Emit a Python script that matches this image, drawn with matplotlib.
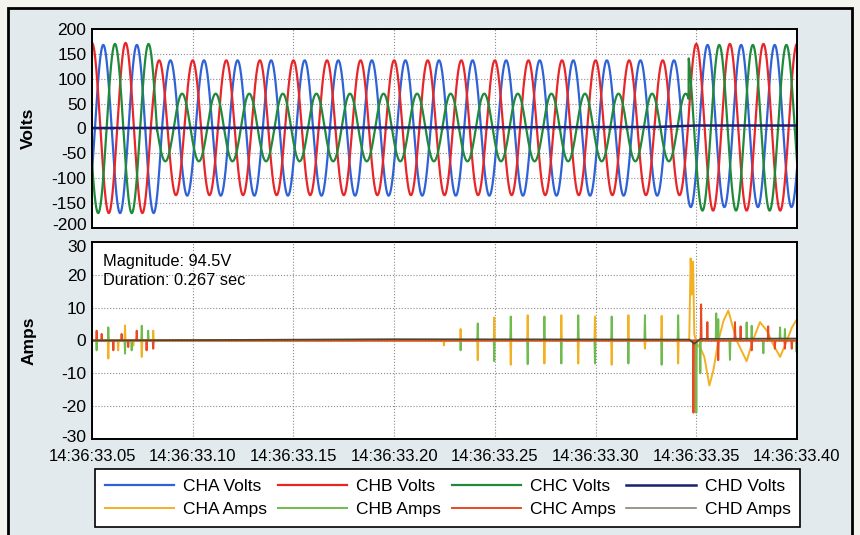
import numpy as np
import matplotlib
matplotlib.use("Agg")
import matplotlib.pyplot as plt
from matplotlib import font_manager
from matplotlib.patches import Rectangle
from matplotlib.transforms import ScaledTranslation
from matplotlib.ticker import FuncFormatter

# ---- data (time in seconds after 14:36:33) ----
FREQ = 60.0
T_START, T_END = 0.05, 0.40
x_ticks = [0.05, 0.10, 0.15, 0.20, 0.25, 0.30, 0.35, 0.40]
volt_ticks = [-200, -150, -100, -50, 0, 50, 100, 150, 200]
amp_ticks = [-30, -20, -10, 0, 10, 20, 30]

# voltage channels: one positive peak time, sag start/end edges, peak values per segment
cha_v_peak = 0.0556
cha_v_edges = [0.0847, 0.3431]
cha_v_pos = [168, 137, 168]
cha_v_neg = [-170, -135, -158]

chb_v_peak = 0.0500
chb_v_edges = [0.0792, 0.3458]
chb_v_pos = [172, 137, 170]
chb_v_neg = [-170, -134, -165]

chc_v_peak = 0.0614
chc_v_edges = [0.0823, 0.3462]
chc_v_pos = [170, 70, 168]
chc_v_neg = [-170, -66, -165]

chd_v_t = [0.05, 0.20, 0.33, 0.35, 0.40]
chd_v_v = [1.0, 2.0, 3.0, 6.0, 6.0]

# current channels: narrow spikes (time, amps) plus a continuous trace after the fault
cha_a_spike_t = [0.0581, 0.0630, 0.0664, 0.0705, 0.0747, 0.0804,
                 0.2247, 0.2330, 0.2415, 0.2497, 0.2579, 0.2663, 0.2746,
                 0.2830, 0.2914, 0.2997, 0.3080, 0.3163, 0.3245, 0.3328, 0.3410]
cha_a_spike_v = [-5.5, -3.0, 4.6, -1.5, -5.0, 3.0,
                 -1.5, 3.5, -6.0, 7.0, -7.4, 7.7, -7.0,
                 7.7, -7.0, 7.3, -7.4, 7.7, -2.5, 7.5, -7.0]
cha_a_trace_t = [0.3465, 0.3472, 0.3478, 0.3484, 0.3490, 0.3502, 0.3522, 0.3540,
                 0.3565, 0.3585, 0.3610, 0.3635, 0.3659, 0.3700, 0.3750, 0.3781,
                 0.3816, 0.3850, 0.3880, 0.3916, 0.3950, 0.3975, 0.3998, 0.4000]
cha_a_trace_v = [0.0, 25.0, 14.0, 24.0, 2.0, -1.0, -2.5, -5.0,
                 -13.7, -9.0, 0.0, 6.0, 9.1, 0.0, -6.3, 0.0,
                 5.6, 3.0, -1.0, -5.0, 0.0, 4.0, 6.3, 6.3]

chb_a_spike_t = [0.0523, 0.0581, 0.0664, 0.0697, 0.0747, 0.0779,
                 0.2330, 0.2415, 0.2497, 0.2579, 0.2663, 0.2746, 0.2830,
                 0.2914, 0.2997, 0.3080, 0.3163, 0.3245, 0.3328, 0.3410,
                 0.3500, 0.3520, 0.3599, 0.3609, 0.3667, 0.3750, 0.3775,
                 0.3833, 0.3916, 0.3940, 0.3998]
chb_a_spike_v = [-3.0, 4.0, -4.0, -3.0, 4.5, 3.0,
                 -3.0, 5.2, -6.3, 7.3, -7.2, 7.3, -7.0,
                 7.7, -7.0, 7.3, -7.0, 7.7, -7.4, 7.7,
                 -22.0, -10.0, 8.3, 6.5, -5.9, 5.5, 4.5,
                 -3.9, 4.0, 3.5, -3.5]

chc_a_spike_t = [0.0523, 0.0548, 0.0606, 0.0647, 0.0680, 0.0722, 0.0771, 0.0804,
                 0.3486, 0.3524, 0.3555, 0.3609, 0.3692, 0.3720, 0.3775,
                 0.3857, 0.3890, 0.3940, 0.3974]
chc_a_spike_v = [3.0, 2.0, -3.0, 2.0, -2.0, 3.0, -3.0, -2.5,
                 -22.0, 11.0, 5.6, -6.0, 5.6, 4.3, -3.0,
                 4.3, -2.5, -2.5, -2.5]

chd_a_t = [0.05, 0.20, 0.3465, 0.3490, 0.3520, 0.40]
chd_a_v = [0.0, 0.4, 0.3, -1.0, 0.5, 0.6]

labels_v = ["CHA Volts", "CHB Volts", "CHC Volts", "CHD Volts"]
labels_a = ["CHA Amps", "CHB Amps", "CHC Amps", "CHD Amps"]
colors_v = ["#2f62d6", "#e8262a", "#1f8a3a", "#1c1f6e"]
colors_a = ["#f2b123", "#6fbb4e", "#ea4a22", "#8a8478"]


def wave(t, t_peak, edges, pos, neg):
    seg = np.searchsorted(edges, t)
    c = np.cos(2 * np.pi * FREQ * (t - t_peak))
    amp = np.where(c >= 0, np.take(pos, seg), -np.take(neg, seg))
    return c * amp


def build_trace(spike_t, spike_v, trace_t=(), trace_v=(), half=0.00025):
    pts = [(T_START, 0.0)]
    for t, v in zip(spike_t, spike_v):
        pts += [(t - half, 0.0), (t, v), (t + half, 0.0)]
    pts += list(zip(trace_t, trace_v))
    if not trace_t:
        pts.append((T_END, 0.0))
    pts.sort()
    arr = np.array(pts)
    return arr[:, 0], arr[:, 1]


def nudge(label, dy_pt):
    label.set_transform(label.get_transform() + ScaledTranslation(0, dy_pt / 72, fig.dpi_scale_trans))


names = {f.name for f in font_manager.fontManager.ttflist}
narrow = "Liberation Sans Narrow" in names
plt.rcParams["font.family"] = ["Liberation Sans", "DejaVu Sans"]
plt.rcParams["axes.unicode_minus"] = False

fig = plt.figure(figsize=(8.6, 5.35), dpi=100, facecolor="#f4f4ef")
fig.patches.append(Rectangle((8 / 860, -0.02), 844 / 860, 1 - 8 / 535 + 0.02,
                             transform=fig.transFigure, facecolor="#e2eaee",
                             edgecolor="black", linewidth=2, zorder=-5))

ax1 = fig.add_axes([92 / 860, 1 - 228 / 535, 705 / 860, 199 / 535])
ax2 = fig.add_axes([92 / 860, 1 - 439 / 535, 705 / 860, 197 / 535], sharex=ax1)

t = np.linspace(T_START, T_END, 4000)
volt_sets = [
    (cha_v_peak, cha_v_edges, cha_v_pos, cha_v_neg),
    (chb_v_peak, chb_v_edges, chb_v_pos, chb_v_neg),
    (chc_v_peak, chc_v_edges, chc_v_pos, chc_v_neg),
]
lines = []
for (pk, ed, po, ne), lab, col in zip(volt_sets, labels_v[:3], colors_v[:3]):
    ln, = ax1.plot(t, wave(t, pk, ed, po, ne), color=col, lw=1.6, label=lab)
    lines.append(ln)
ln, = ax1.plot(chd_v_t, chd_v_v, color=colors_v[3], lw=1.8, label=labels_v[3])
lines.append(ln)

amp_traces = [
    build_trace(cha_a_spike_t, cha_a_spike_v, cha_a_trace_t, cha_a_trace_v),
    build_trace(chb_a_spike_t, chb_a_spike_v),
    build_trace(chc_a_spike_t, chc_a_spike_v),
]
alines = []
for (tt, vv), lab, col in zip(amp_traces, labels_a[:3], colors_a[:3]):
    ln, = ax2.plot(tt, vv, color=col, lw=1.4, label=lab)
    alines.append(ln)
ln, = ax2.plot(chd_a_t, chd_a_v, color="#4d4535", lw=1.2, label=labels_a[3])
alines.append(ln)

for ax in (ax1, ax2):
    ax.set_facecolor("white")
    ax.grid(True, color="#8c8c8c", linestyle=":", linewidth=0.8)
    ax.tick_params(length=0, labelsize=12.5, pad=4)
    for s in ax.spines.values():
        s.set_linewidth(1.4)
        s.set_color("black")
    ax.set_axisbelow(True)

ax1.set_xlim(T_START, T_END)
ax1.set_xticks(x_ticks)
ax1.set_ylim(-200, 200)
ax1.set_yticks(volt_ticks)
ax1.tick_params(axis="x", labelbottom=False)
ax1.set_ylabel("Volts", fontsize=12.5, fontweight="bold")
ax1.yaxis.set_label_coords(-0.079, 0.5)

ax2.set_ylim(-30, 30)
ax2.set_yticks(amp_ticks)
ax2.xaxis.set_major_formatter(FuncFormatter(lambda x, p: "14:36:33.%02d" % int(round(x * 100))))
ax2.set_ylabel("Amps", fontsize=12.5, fontweight="bold")
ax2.yaxis.set_label_coords(-0.079, 0.5)
ax2.tick_params(axis="x", pad=7)
xfam = ["Liberation Sans Narrow"] if narrow else ["Liberation Sans"]
for lab in ax2.get_xticklabels():
    lab.set_family(xfam)
    lab.set_fontsize(13.5 if narrow else 12)

# keep the crowded corner labels apart
nudge(ax1.get_yticklabels()[0], 3)
nudge(ax2.get_yticklabels()[-1], -3)
nudge(ax2.get_yticklabels()[0], 2)

ax2.text(0.015, 0.94, "Magnitude: 94.5V\nDuration: 0.267 sec", transform=ax2.transAxes,
         fontsize=11.8, va="top", ha="left", linespacing=1.35)

handles, labs = [], []
for lv, la in zip(lines, alines):
    handles += [lv, la]
for lv, la in zip(labels_v, labels_a):
    labs += [lv, la]
leg = fig.legend(handles, labs, ncol=4, loc="lower left", mode="expand",
                 bbox_to_anchor=(95 / 860, 1 - 527 / 535, 705 / 860, 57 / 535),
                 fontsize=12.5, handlelength=4, frameon=True, fancybox=False,
                 edgecolor="black", borderaxespad=0, columnspacing=1.2,
                 handletextpad=0.5, labelspacing=0.5, borderpad=0.55)
leg.get_frame().set_linewidth(1.2)
leg.get_frame().set_alpha(1)
leg.legend_handles[7].set_color(colors_a[3])

fig.savefig("out.png", dpi=100, facecolor=fig.get_facecolor())
